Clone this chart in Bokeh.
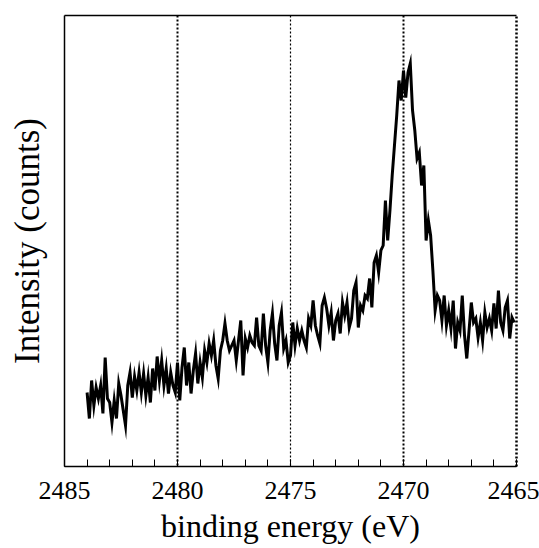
from bokeh.plotting import figure
from bokeh.models import Range1d, SingleIntervalTicker, LinearAxis, FixedTicker, Span
from bokeh.embed import file_html
from bokeh.resources import INLINE

# binding energy grid (eV), 0.1 eV steps from 2484.0 down to 2465.1
start_energy = 2484.0
step = 0.1
intensity = [
    74, 48, 86, 61, 79, 68, 81, 53, 109, 68,
    64, 44, 66, 48, 83, 71, 56, 41, 81, 94,
    69, 90, 76, 94, 74, 93, 71, 89, 64, 98,
    76, 110, 86, 106, 81, 98, 73, 94, 81, 74,
    104, 66, 99, 119, 81, 104, 73, 96, 113, 83,
    104, 89, 116, 104, 123, 111, 126, 101, 88, 116,
    126, 143, 126, 116, 121, 126, 106, 126, 146, 91,
    128, 119, 131, 124, 121, 149, 121, 116, 153, 121,
    104, 136, 153, 123, 106, 141, 154, 118, 126, 104,
    111, 144, 121, 138, 126, 136, 126, 119, 148, 141,
    166, 141, 131, 123, 161, 169, 158, 141, 154, 126,
    146, 153, 133, 164, 151, 164, 139, 148, 176, 184,
    139, 161, 156, 171, 168, 188, 159, 204, 211, 194,
    216, 221, 266, 226, 256, 291, 321, 351, 386, 366,
    396, 369, 394, 403, 356, 336, 308, 314, 281, 301,
    226, 246, 231, 196, 156, 171, 166, 146, 171, 141,
    156, 138, 166, 118, 144, 136, 171, 131, 108, 136,
    164, 144, 148, 129, 144, 126, 154, 139, 148, 136,
    163, 138, 176, 144, 136, 159, 166, 128, 149, 144,
]
energy = [round(start_energy - step * i, 2) for i in range(len(intensity))]

grid_energies = [2480, 2475, 2470]
x_label = "binding energy (eV)"
y_label = "Intensity (counts)"

FONT = "'Liberation Serif', 'Times New Roman', serif"

p = figure(width=539, height=548, output_backend="svg", toolbar_location=None,
           x_range=Range1d(2485, 2465), y_range=Range1d(0, 451),
           min_border_left=64, min_border_top=15, min_border_right=23, min_border_bottom=82)
p.outline_line_color = None
p.background_fill_color = "white"
p.border_fill_color = "white"
p.grid.grid_line_color = None

for e in grid_energies:
    p.add_layout(Span(location=e, dimension="height", line_color="black",
                      line_dash="2 2", line_width=2 if e != 2475 else 1.2))

p.line(energy, intensity, line_color="black", line_width=3, line_join="miter")

# x axis
xa = p.xaxis[0]
xa.ticker = SingleIntervalTicker(interval=5, num_minor_ticks=5)
xa.axis_label = x_label
xa.axis_label_text_font = FONT
xa.axis_label_text_font_style = "normal"
xa.axis_label_text_font_size = "32px"
xa.axis_label_text_color = "black"
xa.axis_label_standoff = 6
xa.major_label_text_font = FONT
xa.major_label_text_font_size = "26px"
xa.major_label_text_color = "black"
xa.major_label_standoff = 15
xa.major_tick_in = 7
xa.major_tick_out = 0
xa.minor_tick_in = 7
xa.minor_tick_out = 0
xa.axis_line_color = "black"
xa.axis_line_width = 1.5
xa.major_tick_line_color = "black"
xa.minor_tick_line_color = "black"

# y axis: label only
ya = p.yaxis[0]
ya.ticker = FixedTicker(ticks=[])
ya.major_label_text_font_size = "0px"
ya.major_tick_line_color = None
ya.minor_tick_line_color = None
ya.axis_label = y_label
ya.axis_label_text_font = FONT
ya.axis_label_text_font_style = "normal"
ya.axis_label_text_font_size = "35px"
ya.axis_label_text_color = "black"
ya.axis_label_standoff = 18
ya.axis_line_color = "black"
ya.axis_line_width = 1.5

# top frame line
top = LinearAxis(ticker=FixedTicker(ticks=[]), major_label_text_font_size="0px",
                 major_tick_line_color=None, minor_tick_line_color=None,
                 axis_line_color="black", axis_line_width=1.5)
p.add_layout(top, "above")

# right edge: dotted line at 2465
right = LinearAxis(ticker=FixedTicker(ticks=[]), major_label_text_font_size="0px",
                   major_tick_line_color=None, minor_tick_line_color=None,
                   axis_line_color="black", axis_line_width=2.5, axis_line_dash="2 2")
p.add_layout(right, "right")

open("out.html", "w").write(file_html(p, INLINE))
